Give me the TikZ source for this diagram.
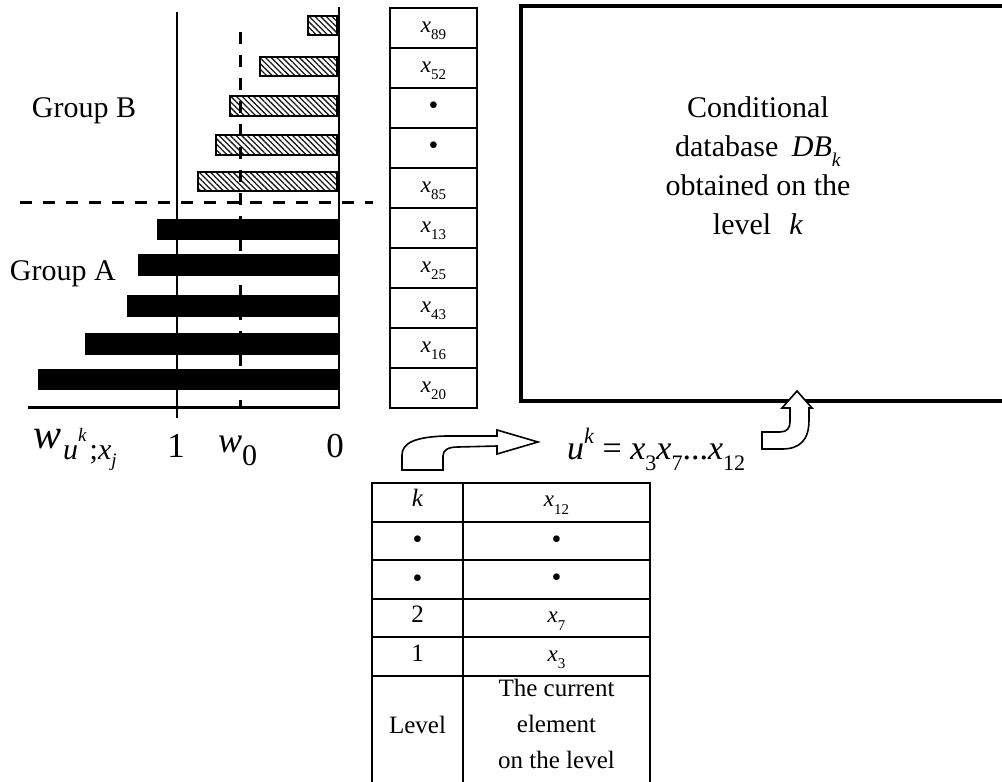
\documentclass[tikz,border=0pt]{standalone}
\usepackage{fontspec}
\setmainfont{Liberation Serif}
\usetikzlibrary{patterns.meta}

% font size helper, lowered / raised small indices
\newcommand\fs[1]{\fontsize{#1}{#1}\selectfont}
\newcommand\dn[1]{\raisebox{-0.33em}{\scalebox{0.65}{#1}}}
\newcommand\up[1]{\raisebox{0.45em}{\scalebox{0.65}{#1}}}
\newcommand\xv[1]{\textit{x}\dn{#1}}
\newcommand\dotm{\raisebox{-0.12em}{\fontsize{14}{14}\selectfont\textbullet}}

\begin{document}
\begin{tikzpicture}[x=0.5pt,y=-0.5pt,
  txt/.style={inner sep=0pt, outer sep=0pt},
  hatchbar/.style={draw=black, line width=0.9pt,
    pattern={Lines[angle=-45,distance=2pt,line width=0.65pt]}, pattern color=black!90},
  solidbar/.style={draw=black, fill=black, line width=0.5pt},
  axisline/.style={line width=1pt},
  dashline/.style={line width=1.5pt, dash pattern=on 6pt off 5.5pt},
  cell/.style={draw, line width=1pt, inner sep=0pt, outer sep=0pt,
    minimum width=43.5pt, minimum height=20pt, text height=7pt, text depth=3pt,
    font=\fontsize{11.5}{11.5}\selectfont},
  lcell/.style={draw, line width=1pt, inner sep=0pt, outer sep=0pt,
    minimum width=45.5pt, minimum height=19.3pt, text height=7.5pt, text depth=3pt,
    font=\fontsize{12.5}{12.5}\selectfont},
  rcell/.style={lcell, minimum width=93.5pt, font=\fontsize{11.5}{11.5}\selectfont},
  blockarrow/.style={draw=black, fill=white, line width=0.8pt, line join=miter}]

\useasboundingbox (0,0) rectangle (1002,782);
\clip (0,0) rectangle (1002,782);

% ---- bar chart: weights of the candidate items ----
\path[hatchbar] (308,16) rectangle (337,35);
\path[hatchbar] (260,57) rectangle (337,76);
\path[hatchbar] (230,96) rectangle (337,116);
\path[hatchbar] (216,135) rectangle (337,155);
\path[hatchbar] (198,172) rectangle (337,191);

\path[solidbar] (157,219) rectangle (339,239);
\path[solidbar] (138,254) rectangle (339,275);
\path[solidbar] (127,295) rectangle (339,316);
\path[solidbar] (85,333) rectangle (339,354);
\path[solidbar] (38,369) rectangle (339,389);

\draw[axisline] (177,12) -- (177,418);
\draw[line width=1.3pt] (339,7) -- (339,408);
\draw[line width=1.5pt] (28,407) -- (340,407);
\draw[dashline] (240,32) -- (240,408);
\draw[dashline] (20,202) -- (373,202);

\node[txt, anchor=base west, font=\fs{15}] (grpB) at (32,117) {Group B};
\node[txt, anchor=base west, font=\fs{15}] (grpA) at (10,280) {Group A};

\node[txt, anchor=base west] (wlab) at (33,448)
  {\fs{21}\textit{w}\kern1pt\raisebox{-5.5pt}{\fs{15}\textit{u}\raisebox{9pt}{\fs{9.5}\textit{k}}\kern1.5pt;\textit{x}\raisebox{-3.5pt}{\fs{9.5}\textit{j}}}};
\node[txt, anchor=base, font=\fs{17.5}] (one) at (176,457) {1};
\node[txt, anchor=base west] (wzero) at (218,452) {\fs{18}\textit{w}\raisebox{-6.5pt}{\fs{15}0}};
\node[txt, anchor=base, font=\fs{17.5}] (zero) at (335,457) {0};

% ---- sorted list of items ----
\foreach \t [count=\i] in {{\xv{89}},{\xv{52}},{\dotm},{\dotm},{\xv{85}},{\xv{13}},{\xv{25}},{\xv{43}},{\xv{16}},{\xv{20}}}
  \node[cell] (c\i) at (433.5,{28+40*(\i-1)}) {\t};

% ---- conditional database ----
\node[draw, line width=2.25pt, inner sep=0pt, outer sep=0pt, anchor=north west,
  minimum width=245.5pt, minimum height=197.5pt] (dbbox) at (521,6) {};
\node[txt, anchor=north, align=center, font=\fontsize{15}{19.5}\selectfont] (dbtext) at (758,96.5)
  {Conditional\\database\hspace{0.45em}\textit{DB}\dn{\textit{k}}\\obtained on the\\level\hspace{0.6em}\textit{k}};

% ---- current itemset ----
\node[txt, anchor=base west] (ueq) at (567,459)
  {\fs{17}\textit{u}\up{\textit{k}} = \textit{x}\dn{3}\textit{x}\dn{7}...\textit{x}\dn{12}};

% ---- level table ----
\foreach \l/\r [count=\i] in {{\textit{k}}/{\xv{12}},{\dotm}/{\dotm},{\dotm}/{\dotm},{2}/{\xv{7}},{1}/{\xv{3}}}{
  \node[lcell] (l\i) at (417.5,{483+19.3*(2*\i-1)}) {\l};
  \node[rcell] (r\i) at (556.5,{483+19.3*(2*\i-1)}) {\r};
}
\draw[line width=1pt] (l5.south west) -- ++(0,130);
\draw[line width=1pt] (l5.south east) -- ++(0,130);
\draw[line width=1pt] (r5.south east) -- ++(0,130);
\node[txt, anchor=base, font=\fs{12.5}] (lvl) at (417.5,733) {Level};
\node[txt, anchor=north, align=center, font=\fontsize{12.5}{18}\selectfont] (cur) at (556.5,679)
  {The current\\element\\on the level};

% ---- block arrows ----
\draw[blockarrow] (402,470) -- (402,455) .. controls (402,443) and (415,437) .. (445,436)
  -- (497,436) -- (497,430) -- (538,442) -- (497,454) -- (497,446) -- (458,447)
  .. controls (448,447) and (443,450) .. (443,456) -- (443,470) -- cycle;
\draw[blockarrow] (762,449) -- (782,449) .. controls (800,449) and (809,440) .. (809,420)
  -- (809,408) -- (812,408) -- (797,391) -- (782,408) -- (790,408) -- (790,422)
  .. controls (790,428) and (787,432) .. (780,432) -- (762,432) -- cycle;
\end{tikzpicture}
\end{document}
